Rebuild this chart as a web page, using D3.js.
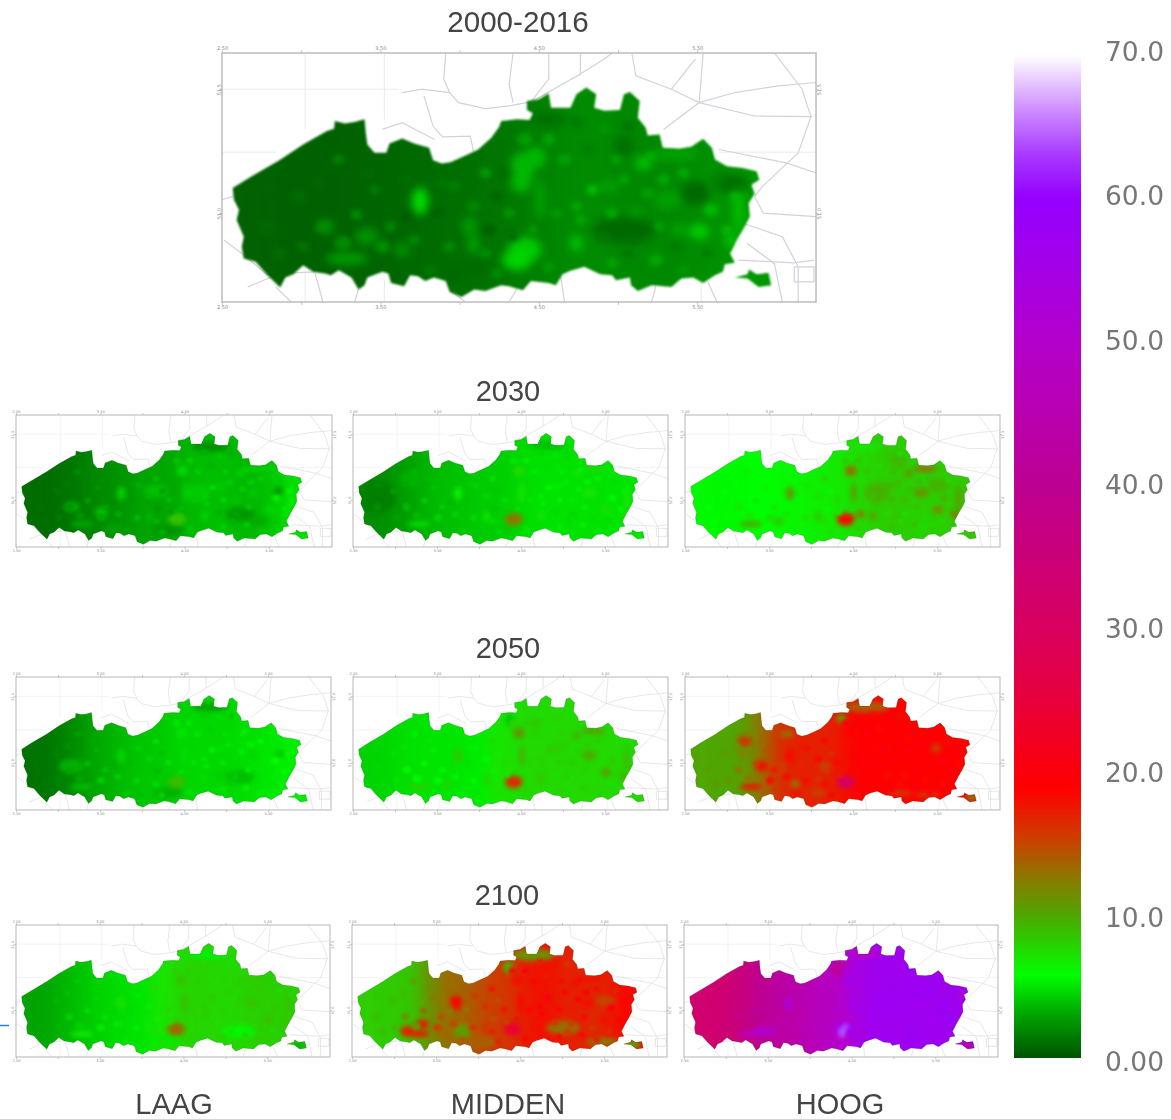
<!DOCTYPE html>
<html><head><meta charset="utf-8">
<script src="https://cdn.jsdelivr.net/npm/d3@7"></script>
<style>html,body{margin:0;padding:0;background:#fff}svg{display:block}</style>
</head><body><svg id="c" width="1171" height="1119"></svg>
<script>
// ---- colour legend
const legendValues=[0,10,20,30,40,50,60,70];
const legendLabels=["0.00","10.0","20.0","30.0","40.0","50.0","60.0","70.0"];
const colorStops=[0,0.6,3,5.8,10,12.5,15.5,18.8,25,30,40,50,60,63,66,70];
const colorRamp=["#005200","#006400","#00a400","#00ff00","#4fa600","#8a7a00","#d03a00","#ff0000","#e8003c","#d8005f","#bd0092","#b400cc","#9500ff","#a838ff","#cc88ff","#ffffff"];
// ---- map geometry, in the map's own grid units
const outline=[[62,445],[110,410],[180,362],[240,315],[300,275],[318,268],[320,245],[345,252],[370,248],[395,240],[398,280],[402,315],[420,340],[450,340],[458,312],[490,297],[520,312],[558,325],[568,362],[590,372],[612,368],[650,348],[682,330],[715,295],[735,262],[740,245],[780,240],[812,242],[820,222],[805,212],[805,185],[835,180],[860,162],[866,205],[915,205],[930,165],[955,145],[980,165],[975,205],[1000,214],[1040,212],[1050,165],[1065,158],[1090,185],[1085,235],[1105,265],[1110,288],[1140,285],[1148,325],[1190,328],[1220,322],[1250,298],[1272,325],[1280,360],[1310,380],[1350,385],[1385,395],[1392,420],[1372,435],[1380,462],[1365,490],[1368,530],[1355,560],[1335,600],[1325,625],[1318,640],[1330,668],[1305,672],[1300,695],[1280,705],[1250,728],[1225,712],[1195,715],[1170,740],[1120,735],[1085,752],[1068,735],[1065,712],[1030,720],[1020,705],[990,702],[950,680],[915,692],[895,702],[878,735],[860,728],[815,722],[795,750],[760,738],[740,735],[700,752],[672,748],[640,770],[610,755],[600,722],[570,712],[548,722],[530,708],[510,705],[495,738],[462,728],[455,700],[440,695],[402,712],[395,735],[380,748],[362,712],[330,690],[310,705],[295,700],[265,695],[240,675],[215,702],[195,712],[182,742],[150,705],[120,665],[90,655],[85,620],[90,590],[72,540],[78,510],[65,480]];
const exclave=[[1330,712],[1362,702],[1366,688],[1385,702],[1415,698],[1422,735],[1390,740],[1362,715]];
const roads=[
[[490,160],[540,150],[610,160],[632,190],[700,208],[760,200],[815,188],[860,120],[860,42]],
[[600,42],[595,120],[610,160]],[[545,170],[568,260],[592,292],[662,290],[670,335]],
[[440,270],[490,250],[572,300]],[[770,42],[760,135],[770,190]],[[815,188],[940,105],[940,42]],
[[940,105],[1000,60],[1020,42]],[[1070,42],[1080,110],[1170,150],[1240,190],[1330,160],[1440,140],[1535,130]],
[[1250,42],[1240,190],[1150,270]],[[1240,190],[1380,230],[1525,232]],[[1430,42],[1500,150],[1522,232],[1490,340],[1400,440],[1380,470]],
[[1380,470],[1402,520],[1535,530]],[[1350,550],[1450,590],[1490,680],[1490,785]],[[1360,610],[1430,670],[1450,785]],
[[1340,660],[1480,668],[1530,660]],[[1480,680],[1530,680],[1530,725],[1480,725],[1480,680]],[[1290,330],[1460,370],[1535,400]],
[[40,600],[85,640],[150,705]],[[170,740],[210,785]],[[100,740],[180,700],[270,695]],[[270,700],[290,785]],
[[380,745],[370,785]],[[610,750],[650,785]],[[780,745],[760,785]],[[890,705],[900,785]],[[1130,740],[1120,785]],[[1262,725],[1285,785]],
[[35,480],[62,470]],[[1170,150],[1230,60]]];
const gridLines=[[[35,338],[170,338]],[[35,150],[480,150]],[[245,42],[245,270]],[[445,42],[445,240]],[[245,690],[245,785]],[[445,720],[445,785]],[[1245,700],[1245,785]],[[1535,338],[1290,338]]];
const lonTicks=[2.5,3,3.5,4,4.5,5,5.5];
const lonLabels=["2.50","","3.50","","4.50","","5.50"];
const latTicks=[51.5,51];
const latLabels=["51.5","51.0"];
// ---- value read-offs: one west-to-east profile for each panel
const profileStart=40, profileStep=80;
const baseObs=[.5,.5,.5,.5,.6,.7,.9,1,1.2,1.5,1.9,2.1,2,1.9,2,2.3,2.5,2.5];
const baseLaag30=[.9,.9,1.1,1.4,1.9,2.2,2.6,3,3,3.2,3.7,3.8,3.8,3.6,3.7,4.4,4.8,4.8];
const baseMid30=[2,2.1,2.6,3,3.6,3.8,4,4.2,4.3,4.5,4.8,4.9,4.9,4.9,4.9,5,5,5];
const baseHoog30=[5.6,5.6,5.6,5.7,5.8,6,6.2,6.5,6.7,7,7.6,8,8.2,8,8,8.2,8.4,8.6];
const baseLaag50=[1.1,1.2,1.6,2.2,3,3.4,3.8,4,4.2,4.4,4.6,4.6,4.6,4.8,5,5.2,5.3,5.2];
const baseMid50=[4.4,4.5,4.7,4.9,5,5,5.1,5.2,7,7.2,7.6,7.6,7.6,7.6,7.6,7.6,7.6,7.8];
const baseHoog50=[10,10,10,10.5,13,16,17,17,17,18,19,19,19,19,19,19,19,18.5];
const baseLaag21=[3,3,3.4,3.8,4.3,4.6,4.8,5,7,7.5,7.8,7.8,7.6,7.8,8,8,8,8];
const baseMid21=[8.2,8.2,8.3,8.6,11,13,13.5,14.5,15.5,16,17.5,18,17,17,16.5,17.5,18.5,18.5];
const baseHoog21=[33,33,34,36,40,42,44,46,48,50,55,57,57,57,57,57,57,57];
// hot spots shared across panels (cities and corridors)
const hubs=[[800,628,42,36],[825,355,28,32],[838,480,14,60],[535,484,20,40],[350,655,55,18],[670,615,15,28],[1180,345,60,16],[1100,370,22,20],[1160,480,35,28],[1240,575,25,22],[1340,510,14,70],[1320,600,14,22],[930,610,16,24],[1010,440,30,18],[1080,520,20,15]];
const hubsObs=[4.2,3.6,2.8,4.8,2.8,2.9,3.1,4,2.8,4.4,3.8,4.2,4,2.8,2.8];
const hubsLaag30=[8.6,4.6,4.2,4.4,3.2,3.6,4.4,4.4,4,4.6,5.2,5.2,4.6,4.2,4.2];
const hubsMid30=[12.8,7.5,7,6.6,4.8,6.8,7.6,7,7,7.4,7,7.2,7,5.2,5.2];
const hubsHoog30=[18.5,13,10.5,11,10,8.8,13.5,11,11,12,10.5,14,11,9.4,9.4];
const hubsLaag50=[9,5,4.8,4.6,3.8,4.2,4.8,4.8,4.6,5,5.3,5.2,4.8,4.8,4.6];
const hubsMid50=[16.5,11,9.5,8.4,8,8,10.5,9.5,9.8,10.5,9,10,8.6,8.4,8.4];
const hubsHoog50=[31,19,19.5,18.5,17.5,16,19,18.5,19,19,18.5,19.5,19.5,18.5,18.5];
const hubsLaag21=[13.5,8.6,9,7.2,6.8,6.8,8.2,8.2,8.6,9,8.6,8.6,7.6,7.8,7.8];
const hubsMid21=[24,18,18.5,19,18,16,18,18,18,18,18.5,18.5,18,17.5,17.5];
const hubsHoog21=[60,57,57,52,48,50,57,57,57,57,56,56,58,57,57];
// local patches: x, y, x radius, y radius, value
const patchObs=[[790,400,30,60,3.6],[780,660,38,30,4.5],[300,560,20,20,2.2],[400,590,30,25,2.4],[490,630,20,20,2.4],[660,560,20,30,2.6],[1130,660,20,20,2.6],[1190,570,20,20,3],[1230,460,35,35,.7],[1050,570,80,40,.8],[750,400,20,25,.9],[1050,320,25,30,1],[1320,430,45,30,1.1],[660,680,55,30,.9],[860,240,45,22,1]];
const patchLaag30=[[1280,470,25,25,2.6],[1100,600,70,40,2.6],[760,690,70,30,2.4],[500,680,50,30,2.8],[960,220,90,30,2.2],[440,590,30,30,3.8],[300,560,40,30,3.2],[700,470,60,40,3.8],[900,480,60,50,4.2],[1180,640,50,25,3.2]];
const patchMid30=[[960,210,90,25,3.8],[750,690,60,25,4.2],[150,500,90,90,1.6],[320,400,60,50,3.4]];
const patchHoog30=[[480,640,30,25,8],[1180,670,70,18,7.4],[870,600,20,20,13],[905,220,70,16,6.8],[1050,620,15,15,9],[950,480,60,60,9.4],[1240,440,50,40,9.4],[1050,300,40,40,9.2]];
const patchLaag50=[[1290,470,25,25,4.2],[1100,600,70,40,3.8],[760,690,70,30,3.4],[300,540,60,40,3.4],[960,210,90,25,3]];
const patchMid50=[[480,640,30,16,8],[1060,600,14,14,8.4],[1190,660,50,12,7.8],[905,300,25,25,8.4],[780,280,20,35,4]];
const patchHoog50=[[900,210,110,32,14],[780,275,24,26,10.5],[310,470,28,22,12],[470,560,40,35,15.5],[560,640,24,24,13],[700,540,28,28,15],[1230,440,24,24,15],[320,400,34,30,16],[400,540,30,30,18],[660,690,50,20,15],[1060,690,60,16,15.5],[1190,700,60,14,15],[1400,715,30,18,12],[520,360,36,20,13]];
const patchMid21=[[900,210,100,36,11],[780,280,26,36,9.5],[560,640,42,40,10.5],[1240,470,50,30,15],[1040,620,80,40,13],[470,650,30,22,13.5],[300,640,36,32,17],[370,600,30,24,18],[1230,700,80,20,12],[1370,715,40,22,9],[660,700,70,24,13.5],[530,470,28,30,19]];
const patchLaag21=[[950,210,100,24,5.4],[740,690,80,20,5.2],[1100,640,80,35,5.6],[1385,720,40,20,3.4]];
const patchHoog21=[[775,290,30,40,38],[1385,720,40,20,42],[900,200,80,30,50],[790,645,14,30,65],[808,612,7,12,68],[420,640,60,26,52],[1360,440,20,30,52]];
// small mottling spots: x, y, radius, departure
const speckles=[[330,360,9,1],[420,450,8,.8],[375,525,9,1.3],[290,560,12,1.2],[230,470,12,.3],[150,560,14,.2],[460,560,9,1],[440,620,12,1.2],[340,610,14,1.2],[520,600,10,.8],[610,620,10,.8],[580,520,9,-.3],[620,440,10,.5],[700,400,9,1.2],[670,500,11,.7],[730,470,9,-.5],[710,570,10,-.6],[620,700,14,-.2],[730,700,9,.8],[800,300,12,1],[860,300,10,.9],[900,360,10,.8],[960,330,10,-.4],[970,450,9,1.4],[930,500,9,.8],[880,520,10,.5],[1020,520,9,1],[1000,590,10,-.5],[940,540,8,.9],[860,680,10,.5],[1020,670,9,.8],[1060,640,10,-.5],[1130,660,9,1],[1200,690,10,.4],[1140,560,9,.8],[1110,460,10,.8],[1050,420,9,.8],[1000,270,9,.4],[930,250,11,-.5],[1060,260,10,-.6],[1150,420,10,1],[1200,400,9,1],[1290,410,9,-.4],[1270,510,12,1],[1330,470,8,.9],[1260,640,10,-.5],[1310,570,9,1],[1180,620,9,-.4],[1120,350,8,1.2],[1030,360,8,.8],[760,520,9,.8],[590,430,8,.4],[500,420,9,.2],[500,530,9,-.3],[400,400,9,.2],[280,430,10,.2],[150,440,9,.1],[180,640,12,.3],[240,620,10,.5],[560,690,9,.4],[820,570,9,.8],[700,640,9,.8],[770,590,8,-.5],[1080,600,9,-.6]];
const speckleGain=[1.3,.8,.6,1,.7,.6,1.8,.5,2.2,2.2];
// ---- panels
const titles=["2000-2016","2030","2050","2100"];
const columnNames=["LAAG","MIDDEN","HOOG"];
const panelValues=[
 [baseObs,hubsObs,patchObs],
 [baseLaag30,hubsLaag30,patchLaag30],[baseMid30,hubsMid30,patchMid30],[baseHoog30,hubsHoog30,patchHoog30],
 [baseLaag50,hubsLaag50,patchLaag50],[baseMid50,hubsMid50,patchMid50],[baseHoog50,hubsHoog50,patchHoog50],
 [baseLaag21,hubsLaag21,patchLaag21],[baseMid21,hubsMid21,patchMid21],[baseHoog21,hubsHoog21,patchHoog21]];
const frames=[[222,53,816,302],[16,415,332,547],[353,415,668,547],[685,415,1000,547],[16,677,331,810],[353,677,668,810],[685,677,1000,810],[16,925,330,1057],[352,925,667,1057],[684,925,998,1057]];

const svg=d3.select("#c");
svg.append("rect").attr("width",1171).attr("height",1119).attr("fill","#fff");
const defs=svg.append("defs");
function blur(id,sd){const f=defs.append("filter").attr("id",id).attr("x","-15%").attr("y","-15%").attr("width","130%").attr("height","130%").attr("color-interpolation-filters","sRGB");f.append("feGaussianBlur").attr("stdDeviation",sd);}
blur("bBaseL",14);blur("bBaseS",7);blur("bHotL",4.5);blur("bHotS",2.6);blur("bSpL",2.6);blur("bSpS",1.5);blur("bEdgeL",1.1);blur("bEdgeS",.7);blur("bText",.35);blur("bRoad",.6);
const color=d3.scaleLinear().domain(colorStops).range(colorRamp).clamp(true);

frames.forEach((fr,i)=>{
  const [base,hubVals,patches]=panelValues[i];
  const big=i===0;
  const x=d3.scaleLinear([35,1535],[fr[0],fr[2]]);
  const y=d3.scaleLinear([42,785],[fr[1],fr[3]]);
  const lon=d3.scaleLinear([2.5,6.25],[fr[0],fr[2]]);
  const lat=d3.scaleLinear([51.646,50.642],[fr[1],fr[3]]);
  const g=svg.append("g");
  const line=d3.line().x(d=>x(d[0])).y(d=>y(d[1]));
  const bg=g.append("g").attr("filter","url(#bRoad)").attr("fill","none");
  bg.selectAll("path.grid").data(gridLines).join("path").attr("class","grid").attr("d",line).attr("stroke","#e6e6ea").attr("stroke-width",big?.8:.5);
  bg.selectAll("path.road").data(roads).join("path").attr("class","road").attr("d",line).attr("stroke",big?"#d2d2da":"#dcdce2").attr("stroke-width",big?1.2:.7);
  g.append("rect").attr("x",fr[0]).attr("y",fr[1]).attr("width",fr[2]-fr[0]).attr("height",fr[3]-fr[1]).attr("fill","none").attr("stroke","#bcbcbc").attr("stroke-width",big?1.5:1.1).attr("filter","url(#bText)");
  const fs=big?5:3.6, ts=big?3:2;
  const fmtLon=d=>lonLabels[lonTicks.indexOf(d)];
  const fmtLat=d=>latLabels[latTicks.indexOf(d)];
  [[d3.axisTop(lon),fr[1]],[d3.axisBottom(lon),fr[3]]].forEach(([a,yy])=>{
    const s=g.append("g").attr("transform",`translate(0,${yy})`).call(a.tickValues(lonTicks).tickFormat(fmtLon).tickSize(ts).tickPadding(.5));
    s.select(".domain").remove();
    s.selectAll("line").attr("stroke","#aaa").attr("stroke-width",.6);
    s.selectAll("text").attr("font-size",fs).attr("font-family","DejaVu Sans").attr("fill","#888");
  });
  [[d3.axisLeft(lat),fr[0]],[d3.axisRight(lat),fr[2]]].forEach(([a,xx])=>{
    const s=g.append("g").attr("transform",`translate(${xx},0)`).call(a.tickValues(latTicks).tickFormat(fmtLat).tickSize(ts).tickPadding(.5));
    s.select(".domain").remove();
    s.selectAll("line").attr("stroke","#aaa").attr("stroke-width",.6);
    s.selectAll("text").attr("font-size",fs).attr("font-family","DejaVu Sans").attr("fill","#888").attr("transform","rotate(-90)").attr("text-anchor","middle").attr("x",0).attr("y",xx===fr[0]?-3:3).attr("dy",".3em");
  });
  const cid="clip"+i;
  const cp=defs.append("clipPath").attr("id",cid);
  cp.append("path").attr("d",line(outline)+"Z");
  cp.append("path").attr("d",line(exclave)+"Z");
  const edge=g.append("g").attr("filter",`url(#bEdge${big?"L":"S"})`);
  const clipped=edge.append("g").attr("clip-path",`url(#${cid})`);
  const bl=clipped.append("g").attr("filter",`url(#bBase${big?"L":"S"})`);
  const W=x(profileStep)-x(0);
  bl.selectAll("rect").data(base).join("rect")
    .attr("x",(d,k)=>k===0?x(profileStart)-W*2:x(profileStart+k*profileStep))
    .attr("y",fr[1]-25).attr("height",fr[3]-fr[1]+50)
    .attr("width",(d,k)=>k===0||k===base.length-1?W*3:W+1)
    .attr("fill",d=>color(d));
  const profileAt=px=>base[Math.max(0,Math.min(base.length-1,Math.floor((px-profileStart)/profileStep)))];
  const hot=clipped.append("g").attr("filter",`url(#bHot${big?"L":"S"})`);
  hot.selectAll("ellipse.h").data(hubs).join("ellipse").attr("class","h")
    .attr("cx",d=>x(d[0])).attr("cy",d=>y(d[1]))
    .attr("rx",d=>x(d[2])-x(0)).attr("ry",d=>y(d[3])-y(0))
    .attr("fill",(d,k)=>color(hubVals[k]));
  hot.selectAll("ellipse.p").data(patches).join("ellipse").attr("class","p")
    .attr("cx",d=>x(d[0])).attr("cy",d=>y(d[1]))
    .attr("rx",d=>x(d[2])-x(0)).attr("ry",d=>y(d[3])-y(0))
    .attr("fill",d=>color(d[4]));
  const sp=clipped.append("g").attr("filter",`url(#bSp${big?"L":"S"})`);
  sp.selectAll("ellipse").data(speckles).join("ellipse")
    .attr("cx",d=>x(d[0])).attr("cy",d=>y(d[1]))
    .attr("rx",d=>x(d[2]*1.6)-x(0)).attr("ry",d=>y(d[2]*1.6)-y(0))
    .attr("fill",d=>color(profileAt(d[0])+speckleGain[i]*d[3]));
  edge.append("path").attr("d",line(outline)+"Z"+line(exclave)+"Z").attr("fill","none").attr("stroke","#003a00").attr("stroke-opacity",big?0:.2).attr("stroke-width",.9);
});

const text=svg.append("g").attr("font-family","Liberation Sans").attr("font-size",29).attr("fill","#444").attr("text-anchor","middle").attr("filter","url(#bText)");
const titleX=[518,508,508,507], titleY=[32,401,658,905];
text.selectAll("text.t").data(titles).join("text").attr("class","t").attr("x",(d,i)=>titleX[i]).attr("y",(d,i)=>titleY[i]).attr("font-size",(d,i)=>i===0?29.6:29).text(d=>d);
const colX=[174,508,840];
text.selectAll("text.n").data(columnNames).join("text").attr("class","n").attr("x",(d,i)=>colX[i]).attr("y",1114).text(d=>d);

const yLeg=d3.scaleLinear([0,70],[1058,55]);
const grad=defs.append("linearGradient").attr("id","ramp").attr("x1",0).attr("x2",0).attr("y1",1).attr("y2",0);
colorStops.forEach((v,i)=>grad.append("stop").attr("offset",v/70).attr("stop-color",colorRamp[i]));
svg.append("rect").attr("x",1014).attr("y",yLeg(70)).attr("width",67).attr("height",yLeg(0)-yLeg(70)).attr("fill","url(#ramp)").attr("filter","url(#bRoad)");
const labY=d3.scaleLinear([0,70],[1071,61]);
svg.append("g").attr("font-family","DejaVu Sans").attr("font-size",26.5).attr("fill","#777").attr("filter","url(#bText)")
  .selectAll("text").data(legendValues).join("text").attr("x",1105).attr("y",d=>labY(d)).text((d,i)=>legendLabels[i]);
svg.append("line").attr("x1",0).attr("x2",9).attr("y1",1025.5).attr("y2",1025.5).attr("stroke","#1e88d0").attr("stroke-width",1.5);
</script></body></html>
